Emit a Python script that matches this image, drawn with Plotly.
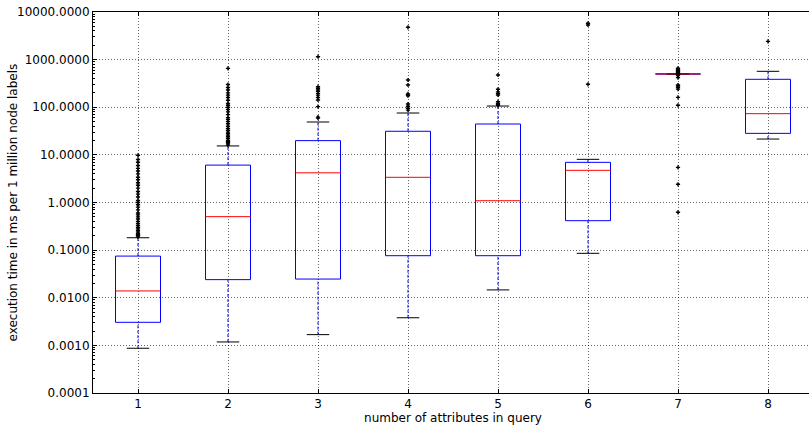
import plotly.graph_objects as go

categories = [1, 2, 3, 4, 5, 6, 7, 8]
q1 = [0.00305, 0.024, 0.0247, 0.0764, 0.0764, 0.415, 500, 28.3]
median = [0.0139, 0.504, 4.2, 3.38, 1.09, 4.74, 500, 73.3]
q3 = [0.075, 6.1, 19.9, 31.3, 44.5, 6.97, 500, 386]
whisker_low = [0.00087, 0.00118, 0.00168, 0.0038, 0.0146, 0.0857, 500, 21.5]
whisker_high = [0.182, 15.4, 49, 75.7, 106, 8.06, 500, 568]

outliers = {
    1: [0.19, 0.2, 0.21, 0.22, 0.24, 0.26, 0.28, 0.3, 0.33, 0.36, 0.4, 0.45, 0.5, 0.55,
        0.6, 0.7, 0.8, 0.9, 1.0, 1.1, 1.3, 1.5, 1.7, 2.0, 2.3, 2.6, 3.0, 3.4, 4.0, 4.6,
        5.2, 6.0, 7.0, 8.0, 9.8],
    2: [16, 17, 18, 19, 20, 22, 24, 26, 28, 30, 33, 36, 40, 45, 50, 55, 60, 70, 80, 90,
        100, 110, 120, 140, 160, 180, 200, 230, 260, 300, 656],
    3: [59, 62, 103, 142, 160, 180, 196, 215, 230, 250, 270, 1153],
    4: [87, 95, 105, 117, 175, 182, 190, 293, 373, 4770],
    5: [110, 115, 121, 131, 181, 195, 210, 238, 475],
    6: [303, 5330, 5786],
    7: [0.622, 2.41, 5.47, 110, 161, 240, 260, 280, 293, 420, 470, 480, 520, 540, 560,
        580, 600, 620, 658],
    8: [2421],
}

y_tickvals = [0.0001, 0.001, 0.01, 0.1, 1, 10, 100, 1000, 10000]
y_ticktext = ["0.0001", "0.0010", "0.0100", "0.1000", "1.0000", "10.0000",
              "100.0000", "1000.0000", "10000.0000"]

x_title = "number of attributes in query"
y_title = "execution time in ms per 1 million node labels"

BOX_HALF = 0.25
CAP_HALF = 0.125

box_x, box_y = [], []
med_x, med_y = [], []
wh_x, wh_y = [], []
cap_x, cap_y = [], []
out_x, out_y = [], []
for i, c in enumerate(categories):
    l, r = c - BOX_HALF, c + BOX_HALF
    box_x += [l, r, r, l, l, None]
    box_y += [q1[i], q1[i], q3[i], q3[i], q1[i], None]
    med_x += [l, r, None]
    med_y += [median[i], median[i], None]
    wh_x += [c, c, None, c, c, None]
    wh_y += [whisker_low[i], q1[i], None, q3[i], whisker_high[i], None]
    cap_x += [c - CAP_HALF, c + CAP_HALF, None, c - CAP_HALF, c + CAP_HALF, None]
    cap_y += [whisker_low[i], whisker_low[i], None, whisker_high[i], whisker_high[i], None]
    for v in outliers[c]:
        out_x.append(c)
        out_y.append(v)

fig = go.Figure()
fig.add_trace(go.Scatter(x=wh_x, y=wh_y, mode="lines",
                         line=dict(color="#0000ff", width=1, dash="3px,2px"),
                         hoverinfo="skip", showlegend=False))
fig.add_trace(go.Scatter(x=box_x, y=box_y, mode="lines",
                         line=dict(color="#0000ff", width=1),
                         hoverinfo="skip", showlegend=False))
fig.add_trace(go.Scatter(x=cap_x, y=cap_y, mode="lines",
                         line=dict(color="#000000", width=1),
                         hoverinfo="skip", showlegend=False))
fig.add_trace(go.Scatter(x=med_x, y=med_y, mode="lines",
                         line=dict(color="#ff0000", width=1),
                         hoverinfo="skip", showlegend=False))
fig.add_trace(go.Scatter(x=out_x, y=out_y, mode="markers",
                         marker=dict(symbol="cross", size=3.5, color="#000000",
                                     line=dict(width=0)),
                         showlegend=False))

minor_vals = [k * 10.0 ** e for e in range(-4, 4) for k in range(2, 10)]
grid_color = "rgba(0,0,0,0.6)"

# The original figure is slightly wider than the visible window; its right edge is cropped.
fig.update_layout(
    width=813, height=426,
    margin=dict(l=93, r=0, t=12, b=33),
    paper_bgcolor="white", plot_bgcolor="white",
    font=dict(family="DejaVu Sans", size=12, color="#000000"),
    showlegend=False,
    annotations=[dict(text=y_title, textangle=-90, xref="paper", yref="paper",
                      x=0, y=0.5, xanchor="center", yanchor="middle",
                      xshift=-81, showarrow=False, font=dict(size=12))],
)
fig.update_xaxes(
    automargin=False,
    range=[0.5, 8.5], tickvals=categories,
    ticks="inside", ticklen=4, tickcolor="#000", mirror="allticks",
    showline=True, linecolor="#000", linewidth=1, zeroline=False,
    showgrid=True, gridcolor=grid_color, griddash="1px,2px", gridwidth=1,
    title=dict(text=x_title, standoff=2, font=dict(size=12)),
    tickfont=dict(size=12),
)
fig.update_yaxes(
    automargin=False,
    type="log", range=[-4, 4], tickvals=y_tickvals, ticktext=y_ticktext,
    ticks="inside", ticklen=4, tickcolor="#000", mirror="allticks",
    showline=True, linecolor="#000", linewidth=1, zeroline=False,
    showgrid=True, gridcolor=grid_color, griddash="1px,2px", gridwidth=1,
    minor=dict(tickvals=minor_vals, ticks="inside", ticklen=2, tickcolor="#000",
               showgrid=False),
    tickfont=dict(size=12),
)

fig.write_html("out.html", config={"displayModeBar": False},
               post_script="document.body.style.margin='0';document.body.style.overflow='hidden';")
